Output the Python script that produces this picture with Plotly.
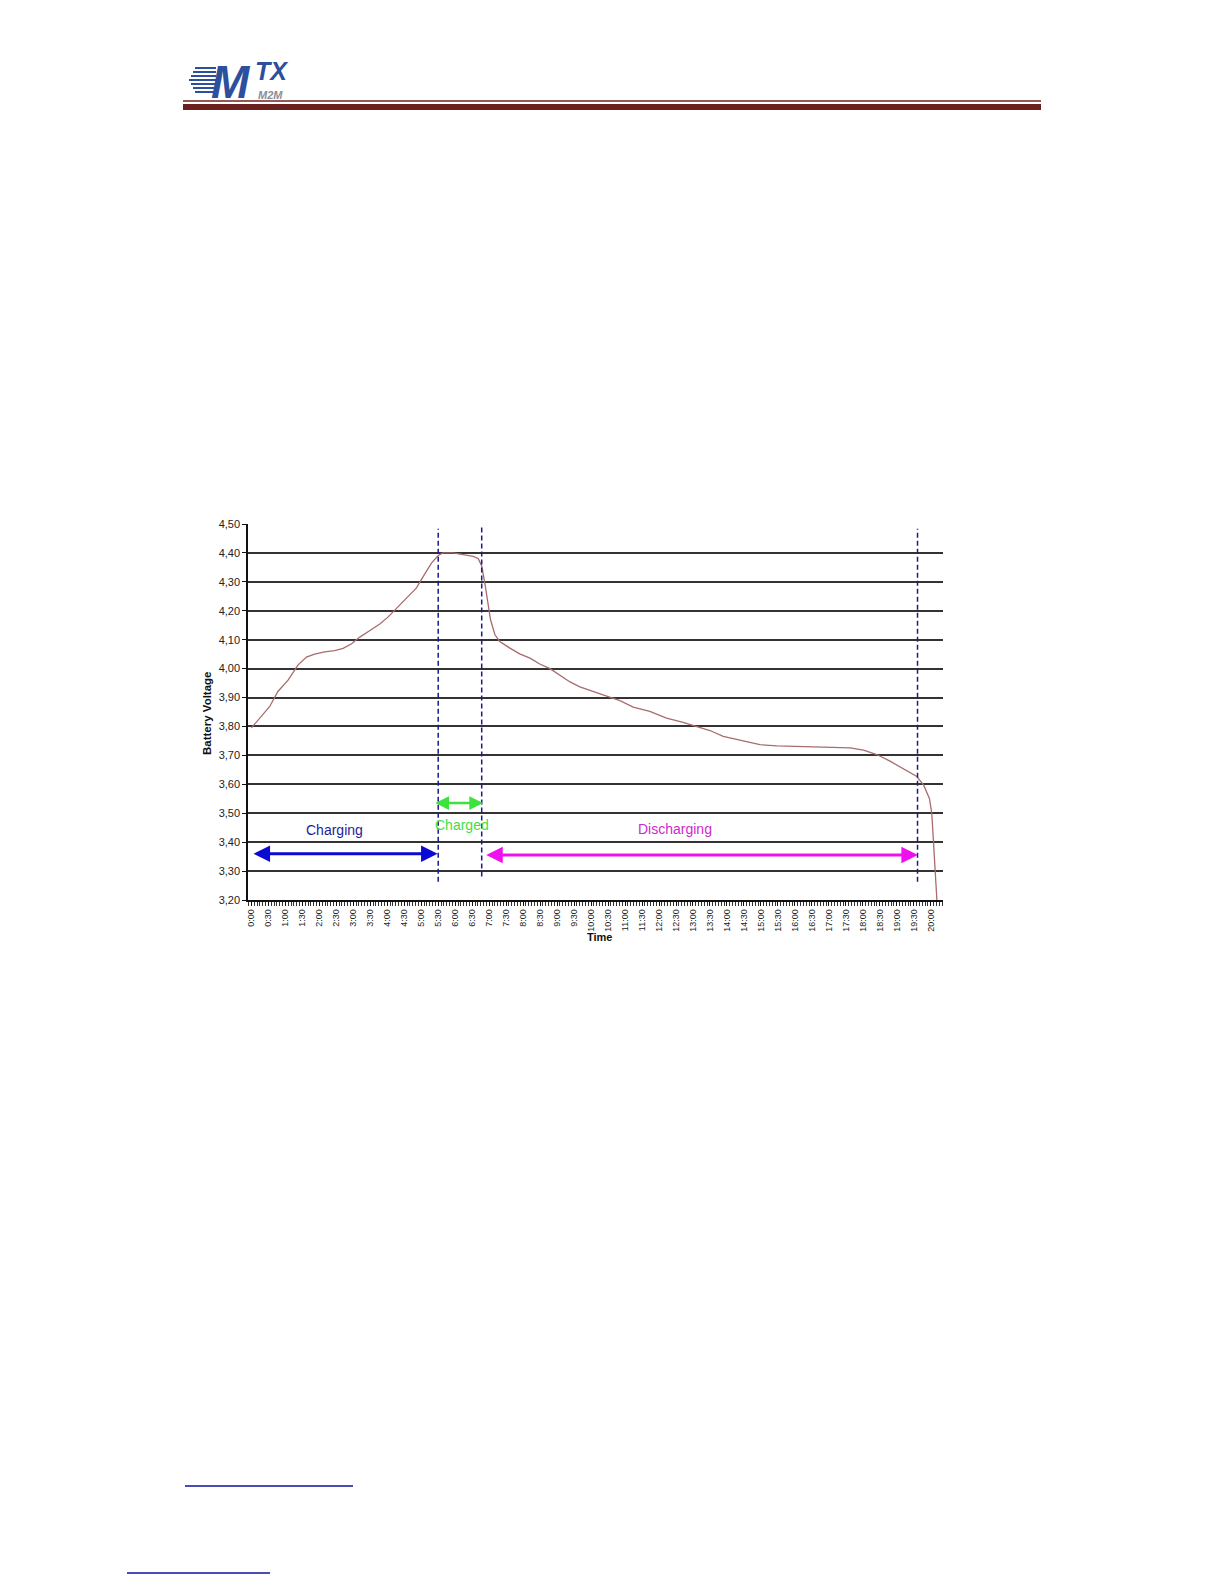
import plotly.graph_objects as go

# ---------------- data ----------------
time_h = [0.00, 0.29, 0.54, 0.78, 1.08, 1.37, 1.62, 1.86, 2.16, 2.45, 2.70, 2.95,
          3.19, 3.49, 3.78, 4.02, 4.27, 4.57, 4.86, 5.06, 5.30, 5.50, 5.64, 5.94,
          6.23, 6.53, 6.68, 6.78, 6.87, 6.97, 7.04, 7.17, 7.31, 7.61, 7.90, 8.20,
          8.49, 8.79, 9.08, 9.38, 9.67, 10.06, 10.46, 10.85, 11.24, 11.73, 12.22,
          12.71, 13.11, 13.50, 13.89, 14.38, 14.97, 15.47, 15.96, 16.50, 17.04,
          17.63, 18.02, 18.41, 18.80, 19.20, 19.59, 19.79, 19.96, 20.03, 20.08,
          20.13, 20.18]
voltage = [3.795, 3.835, 3.869, 3.921, 3.960, 4.012, 4.040, 4.050, 4.058, 4.062,
           4.070, 4.086, 4.109, 4.132, 4.154, 4.178, 4.209, 4.244, 4.279, 4.319,
           4.365, 4.391, 4.400, 4.400, 4.395, 4.388, 4.380, 4.355, 4.297, 4.228,
           4.169, 4.117, 4.094, 4.071, 4.051, 4.036, 4.016, 4.000, 3.977, 3.954,
           3.937, 3.920, 3.905, 3.889, 3.867, 3.852, 3.829, 3.814, 3.800, 3.786,
           3.766, 3.752, 3.737, 3.733, 3.731, 3.729, 3.728, 3.726, 3.718, 3.703,
           3.680, 3.652, 3.627, 3.597, 3.551, 3.500, 3.410, 3.320, 3.200]

x_tick_vals = [i * 0.5 for i in range(41)]
x_tick_text = ["0:00", "0:30", "1:00", "1:30", "2:00", "2:30", "3:00", "3:30",
               "4:00", "4:30", "5:00", "5:30", "6:00", "6:30", "7:00", "7:30",
               "8:00", "8:30", "9:00", "9:30", "10:00", "10:30", "11:00", "11:30",
               "12:00", "12:30", "13:00", "13:30", "14:00", "14:30", "15:00",
               "15:30", "16:00", "16:30", "17:00", "17:30", "18:00", "18:30",
               "19:00", "19:30", "20:00"]
y_tick_vals = [3.2, 3.3, 3.4, 3.5, 3.6, 3.7, 3.8, 3.9, 4.0, 4.1, 4.2, 4.3, 4.4, 4.5]
y_tick_text = ["3,20", "3,30", "3,40", "3,50", "3,60", "3,70", "3,80", "3,90",
               "4,00", "4,10", "4,20", "4,30", "4,40", "4,50"]

# phase boundaries (dashed lines)
phase_x = [5.50, 6.78, 19.61]
phase_y0 = [3.263, 3.281, 3.263]
phase_y1 = [4.484, 4.498, 4.484]

# phase arrows and labels
phase_names = ["Charging", "Charged", "Discharging"]
arrow_x0 = [0.02, 5.37, 6.87]
arrow_x1 = [5.48, 6.82, 19.62]
arrow_y = [3.36, 3.535, 3.356]
label_x = [2.45, 6.19, 12.47]
label_y = [3.442, 3.461, 3.445]
arrow_colors = ["#0a0ad2", "#3de23d", "#ee10ee"]
label_colors = ["#1c1c9a", "#44dd44", "#cc2acc"]
arrow_widths = [3, 2.5, 3]

# ---------------- layout geometry ----------------
OFF = 8  # body margin of the page
W, H = 1224 - 2 * OFF, 1584 - 2 * OFF
L, R, T, B = 240, 273, 516, 676
PW, PH = W - L - R, H - T - B


def px(xp):  # page pixel -> paper x
    return (xp - OFF - L) / PW


def py(yp):  # page pixel -> paper y
    return 1 - (yp - OFF - T) / PH


fig = go.Figure()
fig.add_trace(go.Scatter(x=time_h, y=voltage, mode="lines",
                         line=dict(color="#a86c6c", width=1.3),
                         hoverinfo="skip", showlegend=False))

shapes = []
for xv, y0, y1 in zip(phase_x, phase_y0, phase_y1):
    shapes.append(dict(type="line", xref="x", yref="y", x0=xv, x1=xv, y0=y0, y1=y1,
                       line=dict(color="#1a1a8c", width=1.5, dash="5px,3px")))

# page decorations: header rules
shapes.append(dict(type="line", xref="paper", yref="paper", x0=px(183), x1=px(1041),
                   y0=py(101), y1=py(101), line=dict(color="#6e2020", width=1.5)))
shapes.append(dict(type="rect", xref="paper", yref="paper", x0=px(183), x1=px(1041),
                   y0=py(104), y1=py(110), line=dict(width=0), fillcolor="#6b2020"))
# logo speed stripes
for i, yy in enumerate([68, 72, 76, 80, 84, 88, 92]):
    shapes.append(dict(type="line", xref="paper", yref="paper",
                       x0=px(189 + abs(3 - i) * 2), x1=px(216), y0=py(yy), y1=py(yy),
                       line=dict(color="#2c4f9e", width=2)))
# footnote rules
shapes.append(dict(type="line", xref="paper", yref="paper", x0=px(185), x1=px(353),
                   y0=py(1486), y1=py(1486), line=dict(color="#1010a0", width=1.5)))
shapes.append(dict(type="line", xref="paper", yref="paper", x0=px(127), x1=px(270),
                   y0=py(1573), y1=py(1573), line=dict(color="#1010a0", width=1.5)))

annotations = []
for name, x0, x1, yv, lx, ly, ac, lc, aw in zip(phase_names, arrow_x0, arrow_x1, arrow_y,
                                                 label_x, label_y, arrow_colors,
                                                 label_colors, arrow_widths):
    annotations.append(dict(x=x1, y=yv, ax=x0, ay=yv, xref="x", yref="y", axref="x",
                            ayref="y", text="", showarrow=True, arrowhead=2,
                            startarrowhead=2, arrowside="end+start", arrowsize=1.1,
                            startarrowsize=1.1, arrowwidth=aw, arrowcolor=ac,
                            standoff=0, startstandoff=0))
    annotations.append(dict(x=lx, y=ly, xref="x", yref="y", text=name, showarrow=False,
                            font=dict(family="Arial, Liberation Sans", size=14, color=lc)))

# axis titles
annotations.append(dict(x=px(207), y=py(713), xref="paper", yref="paper",
                        xanchor="center", yanchor="middle",
                        text="<b>Battery Voltage</b>", textangle=-90, showarrow=False,
                        font=dict(family="Arial, Liberation Sans", size=11.5, color="#111")))
annotations.append(dict(x=px(599), y=py(937), xref="paper", yref="paper",
                        xanchor="center", yanchor="middle",
                        text="<b>Time</b>", showarrow=False,
                        font=dict(family="Arial, Liberation Sans", size=11, color="#111")))

# logo
annotations.append(dict(x=px(210), y=py(55), xref="paper", yref="paper", xanchor="left",
                        yanchor="top", text="<b><i>M</i></b>", showarrow=False,
                        borderpad=0,
                        font=dict(family="Arial, Liberation Sans", size=46,
                                  color="#2c4f9e")))
annotations.append(dict(x=px(254), y=py(56), xref="paper", yref="paper", xanchor="left",
                        yanchor="top", text="<b><i>TX</i></b>", showarrow=False,
                        borderpad=0,
                        font=dict(family="Arial, Liberation Sans", size=25,
                                  color="#2c4f9e")))
annotations.append(dict(x=px(257), y=py(88), xref="paper", yref="paper", xanchor="left",
                        yanchor="top", text="<b><i>M2M</i></b>", showarrow=False,
                        borderpad=0,
                        font=dict(family="Arial, Liberation Sans", size=11,
                                  color="#8a8f98")))

fig.update_layout(
    width=W, height=H, margin=dict(l=L, r=R, t=T, b=B, pad=0),
    paper_bgcolor="white", plot_bgcolor="white",
    shapes=shapes, annotations=annotations, showlegend=False,
    xaxis=dict(range=[-0.1, 20.36], tickmode="array", tickvals=x_tick_vals,
               ticktext=x_tick_text, tickangle=-90, showgrid=False, zeroline=False,
               showline=True, linecolor="#111", linewidth=1.5, ticks="outside",
               ticklen=4, tickwidth=1, tickcolor="#111",
               tickfont=dict(family="Arial, Liberation Sans", size=9, color="#222"),
               minor=dict(tick0=0, dtick=1 / 12, ticks="outside", ticklen=4,
                          tickwidth=1, tickcolor="#333", showgrid=False)),
    yaxis=dict(range=[3.2, 4.5], tickmode="array", tickvals=y_tick_vals,
               ticktext=y_tick_text, showgrid=True, gridcolor="#333333", gridwidth=1.8,
               zeroline=False, showline=True, linecolor="#111", linewidth=1.5,
               ticks="outside", ticklen=4, tickcolor="#111",
               tickfont=dict(family="Arial, Liberation Sans", size=11, color="#222")),
)

fig.write_html("out.html")
